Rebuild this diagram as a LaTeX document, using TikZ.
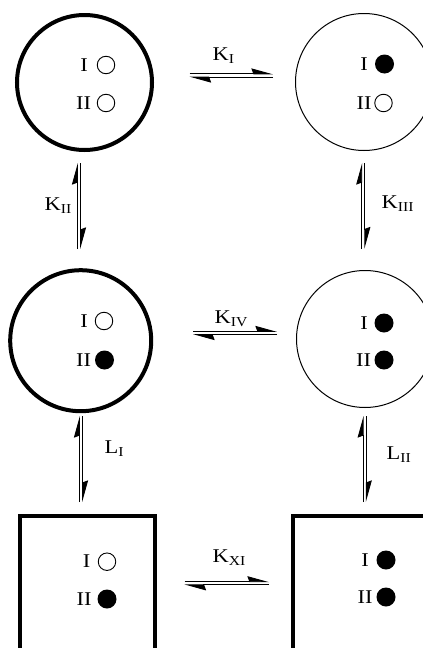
\documentclass[tikz,border=0pt]{standalone}
\usepackage{fontspec}
\setmainfont{Liberation Serif}[FakeStretch=1.15]
\usetikzlibrary{arrows.meta,calc}

\tikzset{
  thickstate/.style={draw, line width=4pt, inner sep=0pt},
  thinstate/.style={draw, line width=1pt, inner sep=0pt},
  emptysite/.style={circle, draw, line width=0.9pt, minimum size=17.5pt, inner sep=0pt},
  fullsite/.style={circle, fill=black, minimum size=19pt, inner sep=0pt},
  sitelabel/.style={anchor=base, inner sep=0pt, font=\fontsize{19.5}{23}\selectfont},
  ratelabel/.style={anchor=base west, inner sep=0pt, font=\fontsize{19.5}{23}\selectfont},
  halfarrow/.style={line width=0.9pt, -{Stealth[harpoon, length=20pt, width=11pt, inset=2pt]}},
}

% pair of opposite half-arrows between two named points
\newcommand\equil[2]{%
  \draw[halfarrow] ($(#1)!1.6pt!90:(#2)$) -- ($(#2)!1.6pt!-90:(#1)$);
  \draw[halfarrow] ($(#2)!1.6pt!90:(#1)$) -- ($(#1)!1.6pt!-90:(#2)$);
}

\begin{document}
\begin{tikzpicture}[x=1pt, y=-1pt]
  \useasboundingbox (0,0) rectangle (423,648);
  \clip (0,0) rectangle (423,648);

  % states
  \node[thickstate, circle, minimum size=135pt] (s1) at (84.5,82.5) {};
  \node[thinstate, circle, minimum size=137pt] (s2) at (364,82) {};
  \node[thickstate, circle, minimum size=141pt] (s3) at (80.7,340.7) {};
  \node[thinstate, circle, minimum size=137pt] (s4) at (365,339) {};
  \node[thickstate, rectangle, minimum width=134.4pt, minimum height=300pt] (s5) at (87.5,666.3) {};
  \node[thickstate, rectangle, minimum width=134.4pt, minimum height=300pt] (s6) at (359.9,666) {};

  % binding sites, state 1
  \node[sitelabel] (s1la) at (84,71) {I};
  \node[emptysite] (s1a) at (106,65) {};
  \node[sitelabel] (s1lb) at (83.5,109) {II};
  \node[emptysite] (s1b) at (106,103) {};

  % binding sites, state 2
  \node[sitelabel] (s2la) at (364,70) {I};
  \node[fullsite] (s2a) at (384.5,64) {};
  \node[sitelabel] (s2lb) at (364,109) {II};
  \node[emptysite] (s2b) at (383.5,103) {};

  % binding sites, state 3
  \node[sitelabel] (s3la) at (84,327) {I};
  \node[emptysite] (s3a) at (104,321) {};
  \node[sitelabel] (s3lb) at (83.5,366) {II};
  \node[fullsite] (s3b) at (104.5,360) {};

  % binding sites, state 4
  \node[sitelabel] (s4la) at (364,329) {I};
  \node[fullsite] (s4a) at (384,323) {};
  \node[sitelabel] (s4lb) at (363.5,366) {II};
  \node[fullsite] (s4b) at (384,360) {};

  % binding sites, state 5
  \node[sitelabel] (s5la) at (86.5,567.7) {I};
  \node[emptysite] (s5a) at (107,561.7) {};
  \node[sitelabel] (s5lb) at (84,605) {II};
  \node[fullsite] (s5b) at (107,599) {};

  % binding sites, state 6
  \node[sitelabel] (s6la) at (365,566) {I};
  \node[fullsite] (s6a) at (386,560) {};
  \node[sitelabel] (s6lb) at (365,603) {II};
  \node[fullsite] (s6b) at (386,597) {};

  % ends of the equilibrium arrows
  \coordinate (e1a) at (189.5,75.5);  \coordinate (e1b) at (273,75.5);
  \coordinate (e2a) at (79,163);      \coordinate (e2b) at (79,249);
  \coordinate (e3a) at (363.3,163);   \coordinate (e3b) at (363.3,248.5);
  \coordinate (e4a) at (193,333);     \coordinate (e4b) at (277,333);
  \coordinate (e5a) at (81,416);      \coordinate (e5b) at (81,502);
  \coordinate (e6a) at (364.7,416);   \coordinate (e6b) at (364.7,502);
  \coordinate (e7a) at (184.5,583.3); \coordinate (e7b) at (269,583.3);

  \equil{e1a}{e1b}
  \equil{e2a}{e2b}
  \equil{e3a}{e3b}
  \equil{e4a}{e4b}
  \equil{e5a}{e5b}
  \equil{e6a}{e6b}
  \equil{e7a}{e7b}

  % rate constants
  \node[ratelabel] (k1) at (212.5,60) {K\textsubscript{I}};
  \node[ratelabel] (k2) at (44.5,210) {K\textsubscript{II}};
  \node[ratelabel] (k3) at (381.5,208) {K\textsubscript{III}};
  \node[ratelabel] (k4) at (214.5,323) {K\textsubscript{IV}};
  \node[ratelabel] (l1) at (104.5,453) {L\textsubscript{I}};
  \node[ratelabel] (l2) at (386.5,459) {L\textsubscript{II}};
  \node[ratelabel] (k7) at (212.5,562) {K\textsubscript{XI}};
\end{tikzpicture}
\end{document}
